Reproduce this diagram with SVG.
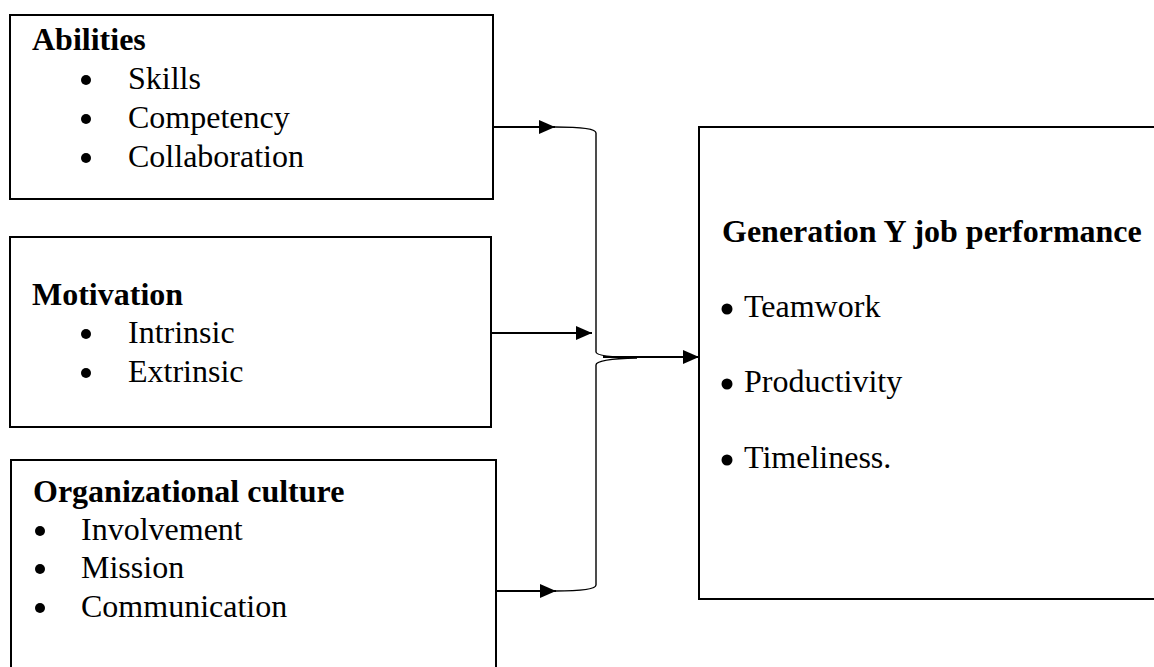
<svg xmlns="http://www.w3.org/2000/svg" width="1154" height="667" viewBox="0 0 1154 667">
  <style>
    .box { fill: #ffffff; stroke: #000000; stroke-width: 2; }
    .t { font-family: "Liberation Serif", "Times New Roman", serif; font-size: 32px; fill: #000000; }
    .b { font-weight: bold; }
    .dot { fill: #000000; }
    .conn { stroke: #000000; stroke-width: 2; fill: none; }
    .brace { stroke: #000000; stroke-width: 1.4; fill: none; }
  </style>
  <defs>
    <marker id="arrow" markerUnits="userSpaceOnUse" markerWidth="16" markerHeight="14" refX="16" refY="7" orient="auto">
      <path d="M0,0 L16,7 L0,14 Z" fill="#000000"/>
    </marker>
  </defs>
  <rect width="1154" height="667" fill="#ffffff"/>

  <g id="abilities">
    <rect class="box" x="10" y="15" width="483" height="184"/>
    <text class="t b" x="32" y="50">Abilities</text>
    <circle class="dot" cx="86" cy="80" r="5"/>
    <text class="t" x="128" y="89">Skills</text>
    <circle class="dot" cx="86" cy="119" r="5"/>
    <text class="t" x="128" y="128">Competency</text>
    <circle class="dot" cx="86" cy="158" r="5"/>
    <text class="t" x="128" y="167">Collaboration</text>
  </g>

  <g id="motivation">
    <rect class="box" x="10" y="237" width="481" height="190"/>
    <text class="t b" x="32" y="305">Motivation</text>
    <circle class="dot" cx="86" cy="334" r="5"/>
    <text class="t" x="128" y="343">Intrinsic</text>
    <circle class="dot" cx="86" cy="373" r="5"/>
    <text class="t" x="128" y="382">Extrinsic</text>
  </g>

  <g id="culture">
    <rect class="box" x="11" y="460" width="485" height="230"/>
    <text class="t b" x="33" y="502">Organizational culture</text>
    <circle class="dot" cx="40" cy="531" r="5"/>
    <text class="t" x="81" y="540">Involvement</text>
    <circle class="dot" cx="40" cy="569" r="5"/>
    <text class="t" x="81" y="578">Mission</text>
    <circle class="dot" cx="40" cy="608" r="5"/>
    <text class="t" x="81" y="617">Communication</text>
  </g>

  <g id="performance">
    <rect class="box" x="699" y="127" width="480" height="472"/>
    <text class="t b" x="722" y="242">Generation Y job performance</text>
    <circle class="dot" cx="727" cy="309" r="5.5"/>
    <text class="t" x="744" y="317">Teamwork</text>
    <circle class="dot" cx="727" cy="384" r="5.5"/>
    <text class="t" x="744" y="392">Productivity</text>
    <circle class="dot" cx="727" cy="460" r="5.5"/>
    <text class="t" x="744" y="468">Timeliness.</text>
  </g>

  <g id="connectors">
    <line class="conn" x1="494" y1="127" x2="555" y2="127" marker-end="url(#arrow)"/>
    <line class="conn" x1="492" y1="333" x2="592" y2="333" marker-end="url(#arrow)"/>
    <line class="conn" x1="497" y1="591" x2="556" y2="591" marker-end="url(#arrow)"/>
    <path class="brace" d="M555,127 Q596,127 596,133 L596,352 Q596,357 637,358 Q596,359 596,365 L596,585 Q596,591 555,591"/>
    <line class="conn" x1="603" y1="357" x2="699" y2="357" marker-end="url(#arrow)"/>
  </g>
</svg>
